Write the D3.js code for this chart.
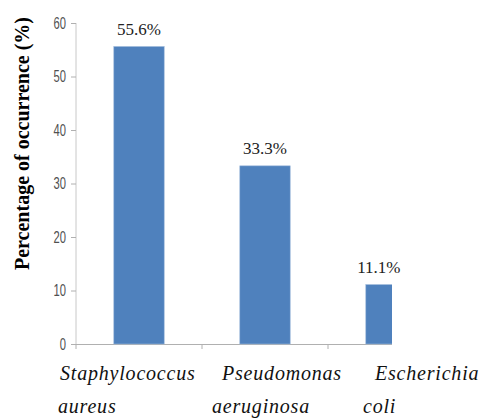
<!DOCTYPE html>
<html>
<head>
<meta charset="utf-8">
<script src="https://cdn.jsdelivr.net/npm/d3@7"></script>
<style>
  body { margin: 0; background: #ffffff; }
  .serif { font-family: "Times New Roman", "Liberation Serif", "DejaVu Serif", serif; }
  .narrow { font-family: "Liberation Sans", Arial, sans-serif; }
</style>
</head>
<body>
<div id="chart"></div>
<script>
var categories = ["Staphylococcus aureus", "Pseudomonas aeruginosa", "Escherichia coli"];
var labelLines = [["Staphylococcus", "aureus"], ["Pseudomonas", "aeruginosa"], ["Escherichia", "coli"]];
var values = [55.6, 33.3, 11.1];
var valueLabels = ["55.6%", "33.3%", "11.1%"];
var yTicks = [0, 10, 20, 30, 40, 50, 60];

createchart();

function createchart() {
  var width = 480;
  var height = 419;
  var left = 76;
  var bottom = 344;
  var top = 23;
  var clipRight = 392;
  var squeeze = 0.7;

  // the category text sits a bit off the band, like the original
  var line1Offset = [-16, 20, 47];
  var line2Offset = [-18, 10, 35];

  var svg = d3.select("#chart").append("svg")
    .attr("width", width)
    .attr("height", height);

  svg.append("rect")
    .attr("width", width)
    .attr("height", height)
    .attr("fill", "#ffffff");

  var x = d3.scaleBand()
    .domain(categories)
    .range([left, left + 378])
    .paddingInner(0.6)
    .paddingOuter(0.3);

  var y = d3.scaleLinear()
    .domain([0, 60])
    .range([bottom, top]);

  svg.append("clipPath")
    .attr("id", "plotclip")
    .append("rect")
    .attr("x", 0)
    .attr("y", 0)
    .attr("width", clipRight)
    .attr("height", height);

  // y axis
  var yAxis = svg.append("g")
    .attr("transform", "translate(" + left + ",0)")
    .call(d3.axisLeft(y).tickValues(yTicks).tickSize(5).tickPadding(5));
  yAxis.attr("font-family", null).attr("font-size", null);
  yAxis.select(".domain").attr("stroke", "#c8c8c8").attr("d", "M0," + top + "V" + bottom);
  yAxis.selectAll(".tick line").attr("stroke", "#b0b0b0");
  // narrow digits, as in the original
  yAxis.selectAll(".tick text")
    .attr("class", "narrow")
    .attr("fill", "#505050")
    .attr("x", -10 / squeeze)
    .attr("transform", "scale(" + squeeze + ",1)")
    .style("font-size", "16px");

  // x axis line with ticks on the band edges
  var xAxis = svg.append("g").attr("clip-path", "url(#plotclip)");
  xAxis.append("line")
    .attr("x1", left - 4)
    .attr("x2", clipRight)
    .attr("y1", bottom + 0.5)
    .attr("y2", bottom + 0.5)
    .attr("stroke", "#b0b0b0");
  xAxis.selectAll(".xtick")
    .data(categories)
    .enter().append("line")
    .attr("x1", function(d) { return x(d) - x.step() * x.paddingInner() / 2; })
    .attr("x2", function(d) { return x(d) - x.step() * x.paddingInner() / 2; })
    .attr("y1", bottom)
    .attr("y2", bottom + 5)
    .attr("stroke", "#b0b0b0");

  // bars
  svg.append("g")
    .attr("clip-path", "url(#plotclip)")
    .selectAll("rect")
    .data(values)
    .enter().append("rect")
    .attr("x", function(d, i) { return x(categories[i]); })
    .attr("y", function(d) { return y(d); })
    .attr("width", x.bandwidth())
    .attr("height", function(d) { return bottom - y(d); })
    .attr("fill", "#4f81bd")
    .attr("stroke", "#9bb7da")
    .attr("stroke-width", 0.6);

  // value labels, centred on the visible part of each bar
  svg.selectAll(".vlabel")
    .data(values)
    .enter().append("text")
    .attr("class", "serif")
    .attr("x", function(d, i) {
      var x0 = x(categories[i]);
      var x1 = Math.min(x0 + x.bandwidth(), clipRight);
      return (x0 + x1) / 2;
    })
    .attr("y", function(d) { return y(d) - 12; })
    .attr("text-anchor", "middle")
    .attr("fill", "#222222")
    .style("font-size", "17px")
    .text(function(d, i) { return valueLabels[i]; });

  // category labels, two lines each
  var cat = svg.selectAll(".cat")
    .data(categories)
    .enter().append("g")
    .attr("class", "serif")
    .style("font-style", "italic")
    .style("font-size", "20px")
    .style("letter-spacing", "0.8px")
    .attr("fill", "#111111");
  cat.append("text")
    .attr("x", function(d, i) { return x(d) - x.step() * 0.3 + line1Offset[i]; })
    .attr("y", 380)
    .text(function(d, i) { return labelLines[i][0]; });
  cat.append("text")
    .attr("x", function(d, i) { return x(d) - x.step() * 0.3 + line2Offset[i]; })
    .attr("y", 413)
    .text(function(d, i) { return labelLines[i][1]; });

  // y axis title
  svg.append("text")
    .attr("class", "serif")
    .attr("transform", "translate(29," + ((15 + 272) / 2) + ") rotate(-90)")
    .attr("text-anchor", "middle")
    .attr("fill", "#000000")
    .style("font-weight", "bold")
    .style("font-size", "20px")
    .text("Percentage of occurrence (%)");
}
</script>
</body>
</html>
